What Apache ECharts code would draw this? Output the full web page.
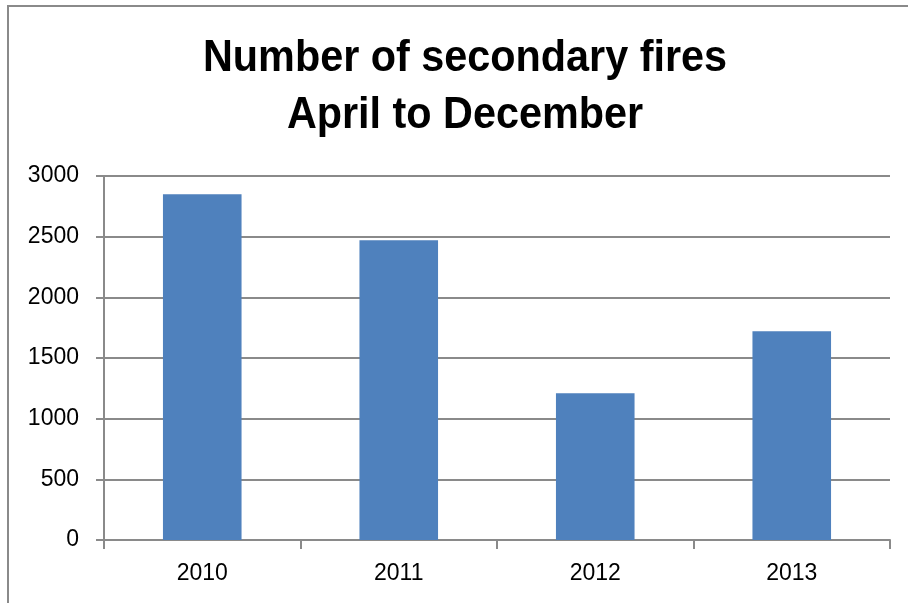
<!DOCTYPE html>
<html>
<head>
<meta charset="utf-8">
<script src="https://cdn.jsdelivr.net/npm/echarts@6/dist/echarts.min.js"></script>
<style>
  html, body { margin: 0; padding: 0; background: #ffffff; }
  #chart { width: 908px; height: 603px; }
</style>
</head>
<body>
<div id="chart"></div>
<script>
// Secondary fires recorded between April and December, by year
const years = ['2010', '2011', '2012', '2013'];
const fires = [2850, 2470, 1210, 1720];
const yTicks = { min: 0, max: 3000, step: 500 };
const titleLines = ['Number of secondary fires', 'April to December'];

const gridColor = '#8a8a8a';
const barColor = '#4f81bd';
const labelFont = '"Liberation Sans", Arial, sans-serif';

const chart = echarts.init(document.getElementById('chart'), null, { renderer: 'canvas' });

// Condensed bold heading: Liberation Sans Bold squeezed horizontally
const titleCenters = [58.5, 115.5];
const titleGraphics = titleLines.map((line, i) => ({
  type: 'text',
  x: 465,
  y: titleCenters[i],
  scaleX: 0.94,
  silent: true,
  style: {
    text: line,
    fontFamily: '"Liberation Sans", Arial, sans-serif',
    fontWeight: 'bold',
    fontSize: 44,
    fill: '#000000',
    align: 'center',
    verticalAlign: 'middle'
  }
}));

chart.setOption({
  animation: false,
  backgroundColor: '#ffffff',
  graphic: [{
    type: 'rect',
    shape: { x: 8, y: 6, width: 1000, height: 1000 },
    style: { fill: 'none', stroke: gridColor, lineWidth: 2 },
    silent: true
  }].concat(titleGraphics),
  grid: { left: 104, right: 18, top: 176, bottom: 63, containLabel: false },
  xAxis: {
    type: 'category',
    data: years,
    boundaryGap: true,
    axisLine: { show: true, lineStyle: { color: gridColor, width: 2 } },
    axisTick: { show: true, length: 9, inside: false, lineStyle: { color: gridColor, width: 2 } },
    axisLabel: {
      margin: 22,
      fontFamily: labelFont,
      fontSize: 23,
      color: '#000000'
    },
    splitLine: { show: false }
  },
  yAxis: {
    type: 'value',
    min: yTicks.min,
    max: yTicks.max,
    interval: yTicks.step,
    axisLine: { show: true, lineStyle: { color: gridColor, width: 2 } },
    axisTick: { show: true, length: 8, inside: false, lineStyle: { color: gridColor, width: 2 } },
    axisLabel: {
      margin: 25,
      fontFamily: labelFont,
      fontSize: 23,
      color: '#000000',
      formatter: (v) => String(v)
    },
    splitLine: { show: true, lineStyle: { color: gridColor, width: 2 } }
  },
  series: [{
    type: 'bar',
    data: fires,
    barWidth: '40%',
    itemStyle: { color: barColor },
    label: { show: false }
  }]
});
</script>
</body>
</html>
